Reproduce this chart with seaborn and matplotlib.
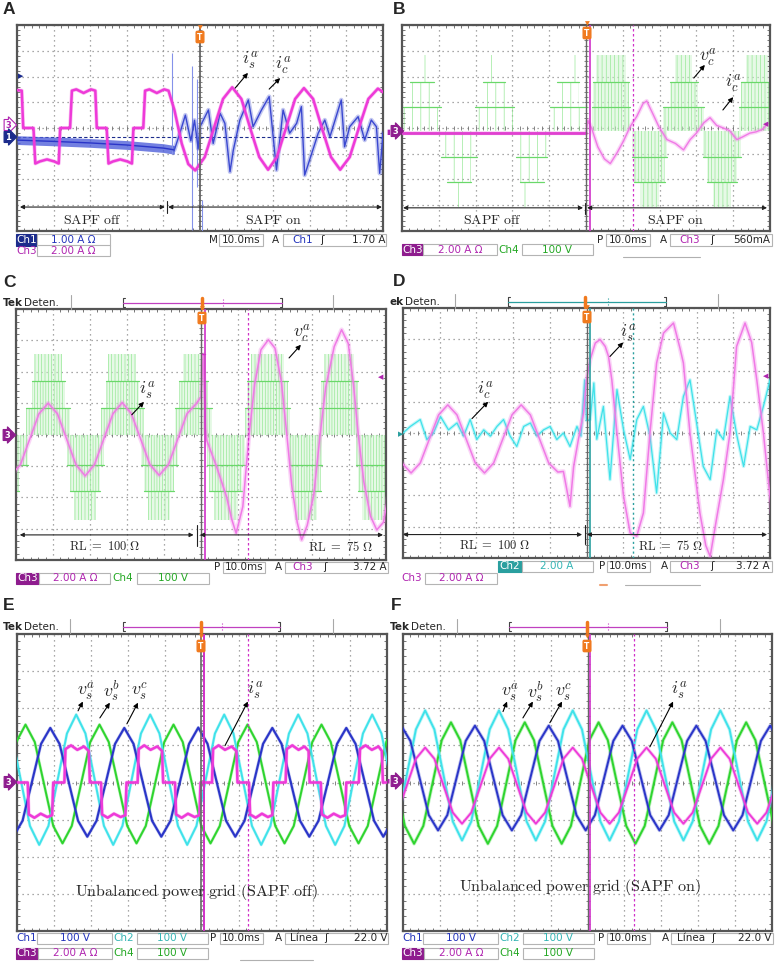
"""Oscilloscope captures of the SAPF experiment, redrawn as six scope panels (A-F)."""
import matplotlib
matplotlib.use("Agg")
import matplotlib.pyplot as plt
from matplotlib.lines import Line2D
from matplotlib.patches import Rectangle
import numpy as np
import seaborn as sns

sns.set_theme(style="white")
plt.rcParams["font.family"] = ["DejaVu Sans"]
plt.rcParams["mathtext.fontset"] = "cm"
plt.rcParams["hatch.linewidth"] = 0.45

W, H = 775, 963
STEP = 0.25  # sample spacing (divisions) of the sinusoid readings

# ---------------------------------------------------------------- data (divisions)
# A: load current (ch3) and compensating current (ch1)
A_IL_X = [-0.05, 0.13, 0.17, 0.45, 0.5, 0.62, 0.82, 1.02, 1.14, 1.18, 1.45, 1.5, 1.62, 1.82,
          2.02, 2.14, 2.18, 2.45, 2.5, 2.62, 2.82, 3.02, 3.14, 3.18, 3.45, 3.5, 3.62, 3.82,
          4.02, 4.14, 4.3, 4.5, 4.68, 4.87, 5.13, 5.38, 5.63, 5.88, 6.13, 6.37, 6.62, 6.86,
          7.1, 7.35, 7.6, 7.84, 8.09, 8.33, 8.58, 8.83, 9.09, 9.34, 9.6, 9.86, 10.05]
A_IL_Y = [1.48, 1.45, 0.0, 0.0, -1.38, -1.3, -1.22, -1.3, -1.38, 0.0, 0.0, 1.45, 1.5, 1.36,
          1.5, 1.45, 0.0, 0.0, -1.38, -1.3, -1.22, -1.3, -1.38, 0.0, 0.0, 1.45, 1.5, 1.36,
          1.5, 1.45, 0.7, -0.6, -1.4, -1.65, -1.13, 0.0, 1.13, 1.58, 1.13, 0.0, -1.13, -1.62,
          -1.13, 0.0, 1.13, 1.55, 1.13, 0.0, -1.13, -1.62, -1.13, 0.0, 1.13, 1.53, 1.35]
A_BAND_X = [0.0, 1.0, 2.0, 3.0, 4.0, 4.3]
A_BAND_MID = [-0.47, -0.52, -0.58, -0.66, -0.78, -0.85]
A_BAND_HALF = 0.17
A_IC_X = [4.3, 4.45, 4.6, 4.75, 4.85, 4.95, 5.0, 5.23, 5.36, 5.55, 5.68, 5.82, 5.91, 6.09,
          6.32, 6.45, 6.68, 6.89, 7.09, 7.27, 7.45, 7.64, 7.77, 7.86, 8.05, 8.23, 8.41, 8.55,
          8.86, 8.95, 9.09, 9.32, 9.5, 9.68, 9.82, 9.91, 10.0]
A_IC_Y = [-0.85, -0.2, 0.5, -0.5, 0.3, -0.8, 0.05, 0.7, -0.6, 0.57, 0.18, -1.7, -0.86, 0.31,
          1.09, 0.05, 0.7, 1.22, -1.63, 0.7, -0.2, 0.18, 0.83, -1.83, -1.0, -0.2, 0.31, -0.34,
          1.09, -0.73, 0.05, 0.44, -0.47, 0.31, 0.05, -1.76, -0.2]
A_SPIKE_X = [4.23, 4.77, 4.91, 5.05]
A_SPIKE_LO = [-1.0, -3.96, -2.3, -4.0]
A_SPIKE_HI = [2.9, 2.4, 1.9, -2.8]

# B: compensating current (ch3) and inverter voltage (ch4, PWM lobes)
B_IC_X = [0.0, 5.0, 5.05, 5.15, 5.32, 5.5, 5.66, 5.85, 6.02, 6.2, 6.38, 6.55, 6.65, 6.8,
          6.98, 7.2, 7.43, 7.65, 7.83, 8.0, 8.2, 8.37, 8.55, 8.73, 8.9, 9.1, 9.25, 9.45,
          9.62, 9.8, 9.92]
B_IC_Y = [-0.2, -0.2, 0.3, 0.0, -0.73, -1.2, -1.38, -0.95, -0.5, 0.05, 0.45, 0.95, 1.05, 0.6,
          0.05, -0.45, -0.6, -0.85, -0.45, -0.2, 0.2, 0.4, 0.1, 0.0, -0.1, -0.45, -0.35, -0.2,
          -0.15, -0.05, 0.15]
B_VC_ZERO = -0.12
B_VC_POS = [0.82, 1.8, 2.83]
B_VC_NEG = [-1.11, -2.08, -3.05]
B_LOBE_C = [0.55, 1.55, 2.51, 3.53, 4.52, 5.68, 6.73, 7.65, 8.7, 9.65]
B_LOBE_SIGN = [1, -1, 1, -1, 1, 1, -1, 1, -1, 1]
B_LOBE_W1 = [0.52, 0.48, 0.52, 0.42, 0.5, 0.52, 0.47, 0.55, 0.52, 0.5]
B_LOBE_W2 = [0.32, 0.32, 0.3, 0.32, 0.3, 0.48, 0.43, 0.38, 0.4, 0.45]
B_LOBE_W3 = [0.2, 0.23, 0.2, 0.23, 0.2, 0.4, 0.25, 0.22, 0.25, 0.3]

# C: source current (ch3) and inverter voltage (ch4)
C_IS_X = [-0.13, 0.12, 0.37, 0.62, 0.87, 1.12, 1.37, 1.62, 1.87, 2.12, 2.37, 2.62, 2.87,
          3.12, 3.37, 3.62, 3.87, 4.12, 4.37, 4.62, 4.87, 5.0, 5.06, 5.12, 5.15, 5.42, 5.69,
          5.83, 5.95, 6.13, 6.3, 6.45, 6.62, 6.82, 7.0, 7.17, 7.32, 7.45, 7.6, 7.72, 7.87,
          8.05, 8.22, 8.37, 8.6, 8.8, 8.98, 9.12, 9.25, 9.4, 9.58, 9.75, 9.93, 10.05]
C_IS_Y = [-1.3, -0.96, -0.15, 0.66, 1.0, 0.66, -0.15, -0.96, -1.32, -0.96, -0.15, 0.66, 1.02,
          0.66, -0.15, -0.96, -1.3, -0.96, -0.15, 0.66, 0.98, 1.2, 2.55, 0.2, -0.17, -1.02, -1.98,
          -2.7, -3.15, -2.3, 0.0, 1.6, 2.7, 3.02, 2.75, 1.7, 0.0, -1.6, -2.8, -3.36, -2.9,
          -1.9, 0.0, 1.5, 2.8, 3.34, 2.9, 1.6, 0.0, -1.5, -2.6, -3.04, -2.8, -2.0]
C_VC_ZERO = 0.0
C_VC_POS = [0.84, 1.72, 2.57]
C_VC_NEG = [-0.97, -1.79, -2.72]
C_LOBE_C = [-0.13, 0.87, 1.87, 2.87, 3.87, 4.8, 5.67, 6.8, 7.83, 8.73, 9.7]
C_LOBE_SIGN = [-1, 1, -1, 1, -1, 1, -1, 1, -1, 1, -1]
C_LOBE_W1 = [0.45, 0.6, 0.5, 0.58, 0.5, 0.5, 0.52, 0.6, 0.45, 0.55, 0.5]
C_LOBE_W2 = [0.2, 0.45, 0.4, 0.45, 0.4, 0.4, 0.45, 0.55, 0.4, 0.5, 0.45]
C_LOBE_W3 = [0.0, 0.38, 0.3, 0.38, 0.3, 0.3, 0.32, 0.45, 0.3, 0.4, 0.35]

# D: source current (ch3) and compensating current (ch2)
D_IS_X = [-0.03, 0.22, 0.47, 0.72, 0.97, 1.22, 1.47, 1.72, 1.97, 2.22, 2.47, 2.72, 2.97, 3.22,
          3.47, 3.72, 3.97, 4.22, 4.37, 4.55, 4.65, 4.78, 4.92, 5.0, 5.1, 5.24, 5.37, 5.51,
          5.6, 5.69, 5.83, 6.01, 6.19, 6.37, 6.55, 6.73, 6.91, 7.1, 7.37, 7.55, 7.64, 7.82,
          8.09, 8.25, 8.37, 8.55, 8.73, 8.91, 9.09, 9.32, 9.5, 9.64, 9.82, 10.05]
D_IS_Y = [-0.96, -1.28, -0.96, -0.19, 0.58, 0.9, 0.58, -0.19, -0.96, -1.28, -0.96, -0.19, 0.58,
          0.9, 0.58, -0.19, -0.96, -1.25, -1.23, -2.35, -1.07, -0.2, 0.64, 1.7, 2.35, 2.88, 2.99,
          2.77, 2.45, 1.7, 0.0, -2.03, -3.2, -3.3, -2.56, 0.0, 2.24, 3.2, 3.52, 2.7, 2.24, 0.0,
          -2.56, -3.6, -3.95, -2.7, -1.49, 0.0, 2.77, 3.52, 2.9, 1.7, 0.0, -2.6]
D_IC_X = [0.0, 0.2, 0.47, 0.65, 0.83, 1.02, 1.24, 1.47, 1.65, 1.83, 2.01, 2.2, 2.38, 2.56,
          2.74, 2.92, 3.1, 3.29, 3.47, 3.65, 3.83, 4.01, 4.19, 4.37, 4.55, 4.74, 4.85, 4.95,
          5.0, 5.1, 5.2, 5.28, 5.46, 5.64, 5.83, 6.01, 6.19, 6.37, 6.55, 6.73, 6.91, 7.1,
          7.28, 7.46, 7.64, 7.82, 8.0, 8.18, 8.37, 8.55, 8.73, 8.91, 9.1, 9.28, 9.46, 9.64,
          9.82, 10.0]
D_IC_Y = [0.0, 0.21, 0.43, -0.21, 0.0, 0.53, 0.1, 0.32, -0.1, 0.43, -0.21, 0.1, -0.1, 0.21,
          0.43, -0.1, -0.43, 0.21, 0.32, -0.1, 0.1, 0.21, -0.21, 0.0, -0.43, 0.21, -0.1, 1.7,
          0.4, 0.43, 1.6, -0.2, 0.85, -1.49, 1.39, 0.1, -0.85, 0.43, 0.85, -0.1, -1.92, 0.64,
          0.0, -0.21, 1.17, 1.7, 0.32, -1.07, -1.49, 0.1, -0.21, 1.17, -0.1, -1.07, 0.21, 0.1,
          0.85, 1.7]

# E: unbalanced grid, SAPF off (first sample time, then readings every STEP)
E_VSA_T0 = -0.1
E_VSA = [-1.46, -1.03, 0.0, 1.04, 1.47, 1.04, 0.0, -1.03, -1.46, -1.03, 0.0, 1.04, 1.47, 1.04,
         0.0, -1.03, -1.46, -1.03, 0.0, 1.04, 1.48, 1.04, 0.0, -1.03, -1.46, -1.03, 0.0, 1.04,
         1.47, 1.04, 0.0, -1.03, -1.46, -1.03, 0.0, 1.04, 1.47, 1.04, 0.0, -1.03, -1.46, -1.03]
E_VSB_T0 = -0.4
E_VSB = [1.83, 1.32, 0.08, -1.17, -1.68, -1.17, 0.08, 1.32, 1.83, 1.32, 0.08, -1.17, -1.68,
         -1.17, 0.08, 1.32, 1.83, 1.32, 0.08, -1.17, -1.68, -1.17, 0.08, 1.32, 1.83, 1.32, 0.08,
         -1.17, -1.68, -1.17, 0.08, 1.32, 1.83, 1.32, 0.08, -1.17, -1.68, -1.17, 0.08, 1.32,
         1.83, 1.32, 0.08]
E_VSC_T0 = -0.77
E_VSC = [-1.64, -1.17, -0.04, 1.09, 1.56, 1.09, -0.04, -1.17, -1.64, -1.17, -0.04, 1.09, 1.56,
         1.09, -0.04, -1.17, -1.64, -1.17, -0.04, 1.09, 1.56, 1.09, -0.04, -1.17, -1.64, -1.17,
         -0.04, 1.09, 1.56, 1.09, -0.04, -1.17, -1.64, -1.17, -0.04, 1.09, 1.56, 1.09, -0.04,
         -1.17, -1.64, -1.17, -0.04, 1.09, 1.56]
E_IS_X = [-0.05,
          0.29, 0.32, 0.47, 0.64, 0.82, 0.95, 0.98, 1.28, 1.31, 1.46, 1.63, 1.81, 1.94, 1.97,
          2.27, 2.3, 2.45, 2.62, 2.8, 2.93, 2.96, 3.26, 3.29, 3.44, 3.61, 3.79, 3.92, 3.95,
          4.27, 4.3, 4.45, 4.62, 4.8, 4.93, 4.96, 5.27, 5.3, 5.45, 5.62, 5.8, 5.93, 5.96,
          6.27, 6.3, 6.45, 6.62, 6.78, 6.9, 6.93, 7.26, 7.29, 7.44, 7.61, 7.77, 7.88, 7.91,
          8.21, 8.24, 8.39, 8.56, 8.74, 8.87, 8.9, 9.24, 9.27, 9.42, 9.59, 9.77, 9.86, 9.89,
          10.1]
E_IS_Y = [0.0,
          0.0, -0.86, -0.95, -0.84, -0.93, -0.88, 0.0, 0.0, 0.9, 1.0, 0.88, 0.97, 0.85, 0.0,
          0.0, -0.86, -0.95, -0.84, -0.93, -0.88, 0.0, 0.0, 0.9, 1.0, 0.88, 0.97, 0.85, 0.0,
          0.0, -0.86, -0.95, -0.84, -0.93, -0.88, 0.0, 0.0, 0.9, 1.0, 0.88, 0.97, 0.85, 0.0,
          0.0, -0.86, -0.95, -0.84, -0.93, -0.88, 0.0, 0.0, 0.9, 1.0, 0.88, 0.97, 0.85, 0.0,
          0.0, -0.86, -0.95, -0.84, -0.93, -0.88, 0.0, 0.0, 0.9, 1.0, 0.88, 0.97, 0.85, 0.0,
          0.0]

# F: unbalanced grid, SAPF on
F_VSA_T0 = -0.05
F_VSA = [1.53, 1.12, 0.12, -0.88, -1.29, -0.88, 0.12, 1.12, 1.53, 1.12, 0.12, -0.88, -1.29,
         -0.88, 0.12, 1.12, 1.53, 1.12, 0.12, -0.88, -1.29, -0.88, 0.12, 1.12, 1.53, 1.12, 0.12,
         -0.88, -1.29, -0.88, 0.12, 1.12, 1.53, 1.12, 0.12, -0.88, -1.29, -0.88, 0.12, 1.12,
         1.53, 1.12]
F_VSB_T0 = -0.4
F_VSB = [-1.56, -1.05, 0.19, 1.43, 1.94, 1.43, 0.19, -1.05, -1.56, -1.05, 0.19, 1.43, 1.94,
         1.43, 0.19, -1.05, -1.56, -1.05, 0.19, 1.43, 1.94, 1.43, 0.19, -1.05, -1.56, -1.05,
         0.19, 1.43, 1.94, 1.43, 0.19, -1.05, -1.56, -1.05, 0.19, 1.43, 1.94, 1.43, 0.19, -1.05,
         -1.56, -1.05, 0.19]
F_VSC_T0 = -0.7
F_VSC = [1.62, 1.14, -0.02, -1.17, -1.65, -1.17, -0.02, 1.14, 1.62, 1.14, -0.02, -1.17, -1.65,
         -1.17, -0.02, 1.14, 1.62, 1.14, -0.02, -1.17, -1.65, -1.17, -0.02, 1.14, 1.62, 1.14,
         -0.02, -1.17, -1.65, -1.17, -0.02, 1.14, 1.62, 1.14, -0.02, -1.17, -1.65, -1.17, -0.02,
         1.14, 1.62, 1.14, -0.02, -1.17]
F_IS_T0 = -0.4
F_IS = [-1.11, -0.81, -0.09, 0.64, 0.94, 0.64, -0.09, -0.81, -1.11, -0.81, -0.09, 0.64, 0.94,
        0.64, -0.09, -0.81, -1.11, -0.81, -0.09, 0.64, 0.94, 0.64, -0.09, -0.81, -1.11, -0.81,
        -0.09, 0.64, 0.94, 0.64, -0.09, -0.81, -1.11, -0.81, -0.09, 0.64, 0.94, 0.64, -0.09,
        -0.81, -1.11, -0.81, -0.09]

# status-bar texts
TIMEBASE = "10.0ms"
A_SCALES = ["1.00 A Ω", "2.00 A Ω"]
A_TRIG = "1.70 A"
B_SCALES = ["2.00 A Ω", "100 V"]
B_TRIG = "560mA"
CD_TRIG = "3.72 A"
D_CH2 = "2.00 A"
EF_SCALES = ["100 V", "100 V", "2.00 A Ω", "100 V"]
EF_TRIG = "22.0 V"

# ---------------------------------------------------------------- colours
PINK = "#ee3ad8"
PINK_L = "#f07ae6"
BLUE = "#2a35c8"
BLUE_L = "#8592ea"
CYAN = "#3fe2ea"
GREEN = "#2ed42e"
PWM_LINE = "#6ad86a"
PWM_HATCH = "#8ee68e"
PURPLE = "#8e1c8e"
NAVY = "#1c2c8c"
TEAL = "#2a9f9f"
ORANGE = "#f07a1e"
TXT_BLUE = "#2233bb"
TXT_MAG = "#b025b0"
TXT_GRN = "#25a825"
TXT_CYAN = "#35b5b5"

fig = plt.figure(figsize=(W / 100, H / 100), dpi=100)
fig.patch.set_facecolor("white")


def ftext(x, y, s, **kw):
    kw.setdefault("fontsize", 7.5)
    kw.setdefault("va", "center")
    fig.text(x / W, 1 - y / H, s, **kw)


def fbox(x0, x1, y, fc="white", ec="#b4b4b4", h=11):
    fig.add_artist(Rectangle((x0 / W, 1 - (y + h / 2) / H), (x1 - x0) / W, h / H,
                             transform=fig.transFigure, fc=fc, ec=ec, lw=0.8))


def fline(xs, ys, **kw):
    fig.add_artist(Line2D([x / W for x in xs], [1 - y / H for y in ys],
                          transform=fig.transFigure, **kw))


def scope(box):
    l, t, r, b = box
    ax = fig.add_axes([l / W, 1 - b / H, (r - l) / W, (b - t) / H])
    ax.set_facecolor("white")
    ax.set_axisbelow(True)
    mt = np.arange(0, 10.01, 0.2)
    ax.plot(mt, np.zeros_like(mt), ls="none", marker="|", ms=3.5, mew=0.6, color="#707070", zorder=1)
    my = np.arange(-4, 4.01, 0.2)
    ax.plot(np.full_like(my, 5.0), my, ls="none", marker="_", ms=3.5, mew=0.6, color="#707070", zorder=1)
    return ax


def finish(ax):
    ax.set_xlim(0, 10)
    ax.set_ylim(-4, 4)
    ax.set_xticks(np.arange(0, 11))
    ax.set_yticks(np.arange(-4, 5))
    ax.set_xticks(np.arange(0, 10.01, 0.2), minor=True)
    ax.set_yticks(np.arange(-4, 4.01, 0.2), minor=True)
    ax.tick_params(which="both", direction="in", top=True, right=True, bottom=True, left=True,
                   labelbottom=False, labelleft=False, colors="#606060")
    ax.tick_params(which="major", length=0)
    ax.tick_params(which="minor", length=2.5, width=0.6)
    ax.grid(True, which="major", color="#8c8c8c", ls=(0, (1, 3)), lw=0.9)
    ax.set_xlabel("")
    ax.set_ylabel("")
    for sp in ax.spines.values():
        sp.set_color("#555555")
        sp.set_linewidth(1.6)


def trace(ax, x, y, color, lw=1.3, fuzz=0.0, z=3):
    if fuzz:
        sns.lineplot(x=x, y=y, ax=ax, color=color, lw=lw + fuzz, alpha=0.3, estimator=None,
                     sort=False, legend=False, zorder=z)
    sns.lineplot(x=x, y=y, ax=ax, color=color, lw=lw, estimator=None, sort=False,
                 legend=False, zorder=z + 0.1)


def sampled(t0, vals):
    return t0 + STEP * np.arange(len(vals)), vals


def pwm(ax, centers, signs, w1, w2, w3, pos, neg, zero, hatches):
    for c, s, a, b, d, hat in zip(centers, signs, w1, w2, w3, hatches):
        lv = pos if s > 0 else neg
        steps = [zero] + list(lv)
        dense = len(hat) > 3
        for k, hw in enumerate((a, b, d)):
            if hw <= 0:
                continue
            lo, hi = sorted((steps[k], steps[k + 1]))
            face = (0.82, 0.96, 0.82, 0.5 if dense else 0.0)
            ax.add_patch(Rectangle((c - hw, lo), 2 * hw, hi - lo, facecolor=face,
                                   edgecolor=PWM_HATCH, hatch=hat if k < 2 else hat[:-1] or "|",
                                   lw=0, zorder=2))
        for k, hw in enumerate((a, b)):
            if hw > 0:
                ax.plot([c - hw, c + hw], [lv[k], lv[k]], color=PWM_LINE, lw=0.9, zorder=2.2)


def note(ax, label, lx, ly, tail, head, fs=13):
    ax.text(lx, ly, label, fontsize=fs, ha="center", va="center", zorder=6)
    ax.annotate("", xy=head, xytext=tail,
                arrowprops=dict(arrowstyle="-|>", color="black", lw=0.8, mutation_scale=7,
                                shrinkA=0, shrinkB=0), zorder=6)


def span(ax, x0, x1, y, label, lx, ly, fs=10):
    ax.annotate("", xy=(x1, y), xytext=(x0, y),
                arrowprops=dict(arrowstyle="<|-|>", color="#222222", lw=0.8, mutation_scale=6,
                                shrinkA=0, shrinkB=0), zorder=6)
    ax.text(lx, ly, label, fontsize=fs, ha="center", va="center", zorder=6)


def vmark(ax, x, color, ls="-", lw=1.2):
    ax.axvline(x, color=color, ls=ls, lw=lw, zorder=4)


def chan_tag(x, y, s, fc, tc="white", ec=None):
    ftext(x, y, s, color=tc, fontsize=6, fontweight="bold", ha="center",
          bbox=dict(boxstyle="rarrow,pad=0.12", fc=fc, ec=ec or fc, lw=0.8))


def trig_tag(x, y):
    ftext(x, y, "T", color="white", fontsize=5.5, fontweight="bold", ha="center",
          bbox=dict(boxstyle="round,pad=0.15", fc=ORANGE, ec=ORANGE))


def header(y, x_tek, x_sep1, x_b0, x_b1, x_mark, x_dot, x_sep2, col, cut=False):
    if cut:
        ftext(x_tek, y, "ek", fontweight="bold", fontsize=7.5)
        ftext(x_tek + 16, y, "Deten.", fontsize=7.5)
    else:
        ftext(x_tek, y, "Tek", fontweight="bold", fontsize=7.5)
        ftext(x_tek + 21, y, "Deten.", fontsize=7.5)
    for xs in (x_sep1, x_sep2):
        fline([xs, xs], [y - 8, y + 6], color="#a8a8a8", lw=0.8)
    fline([x_b0 + 2, x_b0, x_b0, x_b0 + 2], [y - 5, y - 5, y + 4, y + 4], color="#444444", lw=0.8)
    fline([x_b1 - 2, x_b1, x_b1, x_b1 - 2], [y - 5, y - 5, y + 4, y + 4], color="#444444", lw=0.8)
    fline([x_b0, x_b1], [y, y], color=col, lw=0.9)
    fline([x_dot, x_dot], [y - 4, y + 4], color=col, lw=0.8, ls=":")
    fline([x_mark, x_mark], [y - 5, y + 5], color=ORANGE, lw=2.5)


PANELS = {"A": (17, 25, 383, 231), "B": (402, 25, 770, 231), "C": (16, 309, 386, 560),
          "D": (403, 308, 770, 558), "E": (17, 634, 387, 931), "F": (403, 634, 772, 931)}

# ---------------------------------------------------------------- panel A
ax = scope(PANELS["A"])
ax.axhline(-0.34, color=NAVY, ls=(0, (3, 2)), lw=0.8, zorder=1.5)
vmark(ax, 5.0, "#666666", lw=1.3)
ax.fill_between(A_BAND_X, np.array(A_BAND_MID) - A_BAND_HALF, np.array(A_BAND_MID) + A_BAND_HALF,
                color="#5060da", alpha=0.8, lw=0, zorder=3)
trace(ax, A_BAND_X, A_BAND_MID, BLUE, lw=1.0)
ax.vlines(A_SPIKE_X, A_SPIKE_LO, A_SPIKE_HI, color=BLUE_L, lw=0.8, zorder=3)
trace(ax, A_IC_X, A_IC_Y, "#3a48d0", lw=1.0, fuzz=2.2)
trace(ax, A_IL_X, A_IL_Y, PINK, lw=1.8, fuzz=1.0, z=3.5)
note(ax, r"$i_s^a$", 6.37, 2.64, (5.96, 1.55), (6.31, 2.14))
note(ax, r"$i_c^a$", 7.27, 2.45, (6.89, 1.51), (7.19, 1.94))
span(ax, 0.08, 4.04, -3.07, r"$\mathrm{SAPF\ off}$", 2.05, -3.57)
span(ax, 4.13, 9.97, -3.07, r"$\mathrm{SAPF\ on}$", 7.0, -3.57)
ax.plot([4.09, 4.09], [-2.85, -3.3], color="#222222", lw=0.8, zorder=6)
finish(ax)

# ---------------------------------------------------------------- panel B
ax = scope(PANELS["B"])
pwm(ax, B_LOBE_C, B_LOBE_SIGN, B_LOBE_W1, B_LOBE_W2, B_LOBE_W3, B_VC_POS, B_VC_NEG, B_VC_ZERO,
    ["||" if c < 5 else "|||||" for c in B_LOBE_C])
vmark(ax, 5.0, "#666666", lw=1.0)
vmark(ax, 5.1, "#d030c8", lw=1.2)
vmark(ax, 6.27, "#d030c8", ls=(0, (2, 2)), lw=0.9)
trace(ax, B_IC_X, B_IC_Y, PINK_L, lw=1.0, fuzz=2.0, z=3.5)
ax.plot([0.0, 5.0], [-0.2, -0.2], color="#e040d0", lw=2.0, zorder=3.6)
note(ax, r"$v_c^a$", 8.32, 2.76, (7.93, 1.94), (8.23, 2.45))
note(ax, r"$i_c^a$", 9.0, 1.75, (8.72, 0.7), (9.0, 1.2))
span(ax, 0.03, 4.92, -3.1, r"$\mathrm{SAPF\ off}$", 2.45, -3.57)
span(ax, 5.03, 9.92, -3.1, r"$\mathrm{SAPF\ on}$", 7.42, -3.57)
ax.plot([4.97, 4.97], [-2.9, -3.35], color="#222222", lw=0.8, zorder=6)
finish(ax)

# ---------------------------------------------------------------- panel C
ax = scope(PANELS["C"])
pwm(ax, C_LOBE_C, C_LOBE_SIGN, C_LOBE_W1, C_LOBE_W2, C_LOBE_W3, C_VC_POS, C_VC_NEG, C_VC_ZERO,
    ["||||||"] * len(C_LOBE_C))
vmark(ax, 5.0, "#666666", lw=1.0)
vmark(ax, 5.11, "#d030c8", lw=1.2)
vmark(ax, 6.26, "#d030c8", ls=(0, (2, 2)), lw=0.9)
ax.plot([5.02, 5.11], [2.57, 2.57], color="#d030c8", lw=1.0, zorder=4)
trace(ax, C_IS_X, C_IS_Y, PINK_L, lw=1.1, fuzz=2.2, z=3.5)
note(ax, r"$i_s^a$", 3.54, 1.43, (3.13, 0.63), (3.46, 1.04))
note(ax, r"$v_c^a$", 7.73, 3.24, (7.38, 2.44), (7.7, 2.86))
span(ax, 0.1, 4.8, -3.2, r"$\mathrm{RL}\ =\ 100\ \Omega$", 2.4, -3.58, fs=9)
span(ax, 4.97, 9.92, -3.2, r"$\mathrm{RL}\ =\ 75\ \Omega$", 8.76, -3.58, fs=9)
ax.plot([4.88, 4.88], [-2.9, -3.55], color="#222222", lw=0.8, zorder=6)
finish(ax)

# ---------------------------------------------------------------- panel D
ax = scope(PANELS["D"])
vmark(ax, 5.0, "#666666", lw=1.0)
vmark(ax, 5.1, TEAL, lw=1.2)
vmark(ax, 6.28, TEAL, ls=(0, (1.5, 2)), lw=1.0)
trace(ax, D_IC_X, D_IC_Y, CYAN, lw=0.9, fuzz=1.6)
trace(ax, D_IS_X, D_IS_Y, PINK_L, lw=1.1, fuzz=2.2, z=3.5)
note(ax, r"$i_c^a$", 2.23, 1.39, (1.88, 0.46), (2.32, 1.0))
note(ax, r"$i_s^a$", 6.13, 3.2, (5.64, 2.45), (6.0, 2.9))
span(ax, 0.0, 4.88, -3.25, r"$\mathrm{RL}\ =\ 100\ \Omega$", 2.5, -3.6, fs=9)
span(ax, 5.01, 9.92, -3.25, r"$\mathrm{RL}\ =\ 75\ \Omega$", 7.28, -3.6, fs=9)
ax.plot([4.95, 4.95], [-2.95, -3.55], color="#222222", lw=0.8, zorder=6)
finish(ax)

# ---------------------------------------------------------------- panel E
ax = scope(PANELS["E"])
vmark(ax, 4.98, "#666666", lw=1.2)
vmark(ax, 5.06, "#d030c8", lw=1.4)
vmark(ax, 6.23, "#d030c8", ls=(0, (2, 2)), lw=0.9)
trace(ax, *sampled(E_VSC_T0, E_VSC), GREEN, lw=1.4, fuzz=0.8)
trace(ax, *sampled(E_VSB_T0, E_VSB), CYAN, lw=1.4, fuzz=0.8)
trace(ax, *sampled(E_VSA_T0, E_VSA), BLUE, lw=1.5, fuzz=0.8)
trace(ax, E_IS_X, E_IS_Y, PINK, lw=1.8, fuzz=0.8, z=3.5)
for lab, lx, tail, head in ((r"$v_s^a$", 1.86, (1.65, 1.93), (1.78, 2.18)),
                            (r"$v_s^b$", 2.57, (2.24, 1.74), (2.51, 2.15)),
                            (r"$v_s^c$", 3.32, (2.97, 1.58), (3.27, 2.15))):
    note(ax, lab, lx, 2.47, tail, head)
note(ax, r"$i_s^a$", 6.43, 2.5, (5.62, 0.99), (6.24, 2.18))
ax.text(4.86, -2.95, r"$\mathrm{Unbalanced\ power\ grid\ (SAPF\ off)}$", fontsize=11.5,
        ha="center", va="center", zorder=6)
finish(ax)

# ---------------------------------------------------------------- panel F
ax = scope(PANELS["F"])
vmark(ax, 5.0, "#666666", lw=1.0)
vmark(ax, 5.07, "#d030c8", lw=1.2)
vmark(ax, 6.27, "#d030c8", ls=(0, (2, 2)), lw=0.9)
trace(ax, *sampled(F_VSC_T0, F_VSC), GREEN, lw=1.4, fuzz=1.2)
trace(ax, *sampled(F_VSB_T0, F_VSB), CYAN, lw=1.4, fuzz=1.2)
trace(ax, *sampled(F_VSA_T0, F_VSA), BLUE, lw=1.4, fuzz=1.2)
trace(ax, *sampled(F_IS_T0, F_IS), PINK, lw=1.3, fuzz=1.2, z=3.5)
for lab, lx, tail, head in ((r"$v_s^a$", 2.9, (2.71, 1.91), (2.82, 2.18)),
                            (r"$v_s^b$", 3.6, (3.25, 1.74), (3.52, 2.18)),
                            (r"$v_s^c$", 4.36, (3.98, 1.61), (4.31, 2.18))):
    note(ax, lab, lx, 2.44, tail, head)
note(ax, r"$i_s^a$", 7.48, 2.5, (6.69, 0.96), (7.32, 2.18))
ax.text(4.8, -2.81, r"$\mathrm{Unbalanced\ power\ grid\ (SAPF\ on)}$", fontsize=11.5,
        ha="center", va="center", zorder=6)
finish(ax)

# ---------------------------------------------------------------- panel letters
for letter, (x, y) in {"A": (3, 9), "B": (393, 9), "C": (3, 282), "D": (393, 281),
                       "E": (3, 606), "F": (391, 606)}.items():
    fig.text(x / W, 1 - y / H, letter, fontsize=12.5, fontweight="bold", va="center",
             family=["Liberation Sans", "DejaVu Sans"])

# ---------------------------------------------------------------- headers (C-F)
header(303, 3, 71, 123, 282, 202, 223, 333, "#c040c0")
header(302, 389, 455, 508, 666, 585, 608, 718, TEAL, cut=True)
header(627, 3, 70, 123, 280, 201, 222, 333, "#c040c0")
header(627, 390, 457, 509, 667, 587, 608, 720, "#c040c0")

# trigger tags inside the graticules
for x, y in ((200, 37), (587, 33), (202, 318), (587, 317), (201, 646), (587, 646)):
    trig_tag(x, y)
    ftext(x, y - 9, "▼", color=ORANGE, fontsize=4.5, ha="center")

# channel ground / trigger-level markers
chan_tag(8, 125, "3", "white", tc=TXT_MAG, ec=TXT_MAG)
chan_tag(8, 137, "1", NAVY)
ftext(21, 76, "▶", color=NAVY, fontsize=5, ha="center")
ftext(388, 132, "▮", color=TXT_MAG, fontsize=5, ha="center")
chan_tag(395, 131, "3", PURPLE)
ftext(766, 124, "◀", color=TXT_MAG, fontsize=5, ha="center")
chan_tag(7, 435, "3", PURPLE)
ftext(381, 377, "◀", color=TXT_MAG, fontsize=5, ha="center")
ftext(401, 434, "▶", color=TEAL, fontsize=5, ha="center")
ftext(766, 376, "◀", color=TXT_MAG, fontsize=5, ha="center")
chan_tag(8, 782, "3", PURPLE)
ftext(388, 781, "▮", color=TXT_MAG, fontsize=4, ha="center")
chan_tag(395, 781, "3", PURPLE)

# ---------------------------------------------------------------- status bars
# A
fbox(16, 37, 240, fc=NAVY, ec=NAVY)
ftext(26.5, 240, "Ch1", color="white", ha="center")
fbox(37, 110, 240)
ftext(73, 240, A_SCALES[0], color=TXT_BLUE, ha="center")
ftext(27, 251, "Ch3", color=TXT_MAG, ha="center")
fbox(37, 110, 251)
ftext(73, 251, A_SCALES[1], color=TXT_MAG, ha="center")
ftext(213, 240, "M", ha="center")
fbox(219, 263, 240)
ftext(241, 240, TIMEBASE, ha="center")
ftext(275, 240, "A", ha="center")
fbox(283, 386, 240)
ftext(303, 240, "Ch1", color=TXT_BLUE, ha="center")
ftext(322, 240, "ʃ", ha="center")
ftext(385, 240, A_TRIG, ha="right")

# B
ftext(600, 240, "P", ha="center")
fbox(606, 650, 240)
ftext(628, 240, TIMEBASE, ha="center")
ftext(663, 240, "A", ha="center")
fbox(670, 772, 240)
ftext(690, 240, "Ch3", color=TXT_MAG, ha="center")
ftext(712, 240, "ʃ", ha="center")
ftext(770, 240, B_TRIG, ha="right")
fbox(402, 423, 250, fc=PURPLE, ec=PURPLE)
ftext(412.5, 250, "Ch3", color="white", ha="center")
fbox(423, 497, 250)
ftext(460, 250, B_SCALES[0], color=TXT_MAG, ha="center")
ftext(509, 250, "Ch4", color=TXT_GRN, ha="center")
fbox(522, 593, 250)
ftext(557, 250, B_SCALES[1], color=TXT_GRN, ha="center")
fline([623, 700], [257, 257], color="#b0b0b0", lw=0.8)

# C
ftext(217, 567, "P", ha="center")
fbox(223, 265, 567)
ftext(244, 567, TIMEBASE, ha="center")
ftext(278, 567, "A", ha="center")
fbox(285, 388, 567)
ftext(303, 567, "Ch3", color=TXT_MAG, ha="center")
ftext(325, 567, "ʃ", ha="center")
ftext(387, 567, CD_TRIG, ha="right")
fbox(16, 39, 578, fc=PURPLE, ec=PURPLE)
ftext(27.5, 578, "Ch3", color="white", ha="center")
fbox(39, 110, 578)
ftext(75, 578, B_SCALES[0], color=TXT_MAG, ha="center")
ftext(123, 578, "Ch4", color=TXT_GRN, ha="center")
fbox(137, 209, 578)
ftext(173, 578, B_SCALES[1], color=TXT_GRN, ha="center")

# D
fbox(498, 522, 566, fc=TEAL, ec=TEAL)
ftext(510, 566, "Ch2", color="white", ha="center")
fbox(522, 593, 566)
ftext(557, 566, D_CH2, color=TXT_CYAN, ha="center")
ftext(602, 566, "P", ha="center")
fbox(607, 650, 566)
ftext(628, 566, TIMEBASE, ha="center")
ftext(664, 566, "A", ha="center")
fbox(670, 772, 566)
ftext(690, 566, "Ch3", color=TXT_MAG, ha="center")
ftext(712, 566, "ʃ", ha="center")
ftext(770, 566, CD_TRIG, ha="right")
ftext(412, 578, "Ch3", color=TXT_MAG, ha="center")
fbox(425, 497, 578)
ftext(461, 578, B_SCALES[0], color=TXT_MAG, ha="center")
fline([600, 607], [585, 585], color="#f0a070", lw=1.5)
fline([625, 700], [585, 585], color="#b0b0b0", lw=0.8)

# E and F
for dx, ch1_c in ((0, 27), (386, 413)):
    y1, y2 = 938, 953
    ftext(ch1_c, y1, "Ch1", color=TXT_BLUE, ha="center")
    fbox(37 + dx, 112 + dx, y1)
    ftext(75 + dx, y1, EF_SCALES[0], color=TXT_BLUE, ha="center")
    ftext(124 + dx, y1, "Ch2", color=TXT_CYAN, ha="center")
    fbox(137 + dx, 208 + dx, y1)
    ftext(172 + dx, y1, EF_SCALES[1], color=TXT_CYAN, ha="center")
    fbox(16 + dx, 38 + dx, y2, fc=PURPLE, ec=PURPLE)
    ftext(27 + dx, y2, "Ch3", color="white", ha="center")
    fbox(38 + dx, 112 + dx, y2)
    ftext(75 + dx, y2, EF_SCALES[2], color=TXT_MAG, ha="center")
    ftext(124 + dx, y2, "Ch4", color=TXT_GRN, ha="center")
    fbox(137 + dx, 208 + dx, y2)
    ftext(172 + dx, y2, EF_SCALES[3], color=TXT_GRN, ha="center")

ftext(213, 938, "P", ha="center")
fbox(220, 263, 938)
ftext(241.5, 938, TIMEBASE, ha="center")
ftext(278, 938, "A", ha="center")
fbox(285, 388, 938)
ftext(290, 938, "Línea", ha="left")
ftext(326, 938, "ʃ", ha="center")
ftext(387, 938, EF_TRIG, ha="right")
fline([240, 313], [960, 960], color="#b0b0b0", lw=0.8)

ftext(601, 938, "P", ha="center")
fbox(607, 650, 938)
ftext(628.5, 938, TIMEBASE, ha="center")
ftext(665, 938, "A", ha="center")
fbox(671, 773, 938)
ftext(677, 938, "Línea", ha="left")
ftext(713, 938, "ʃ", ha="center")
ftext(772, 938, EF_TRIG, ha="right")

fig.savefig("out.png", dpi=100)
